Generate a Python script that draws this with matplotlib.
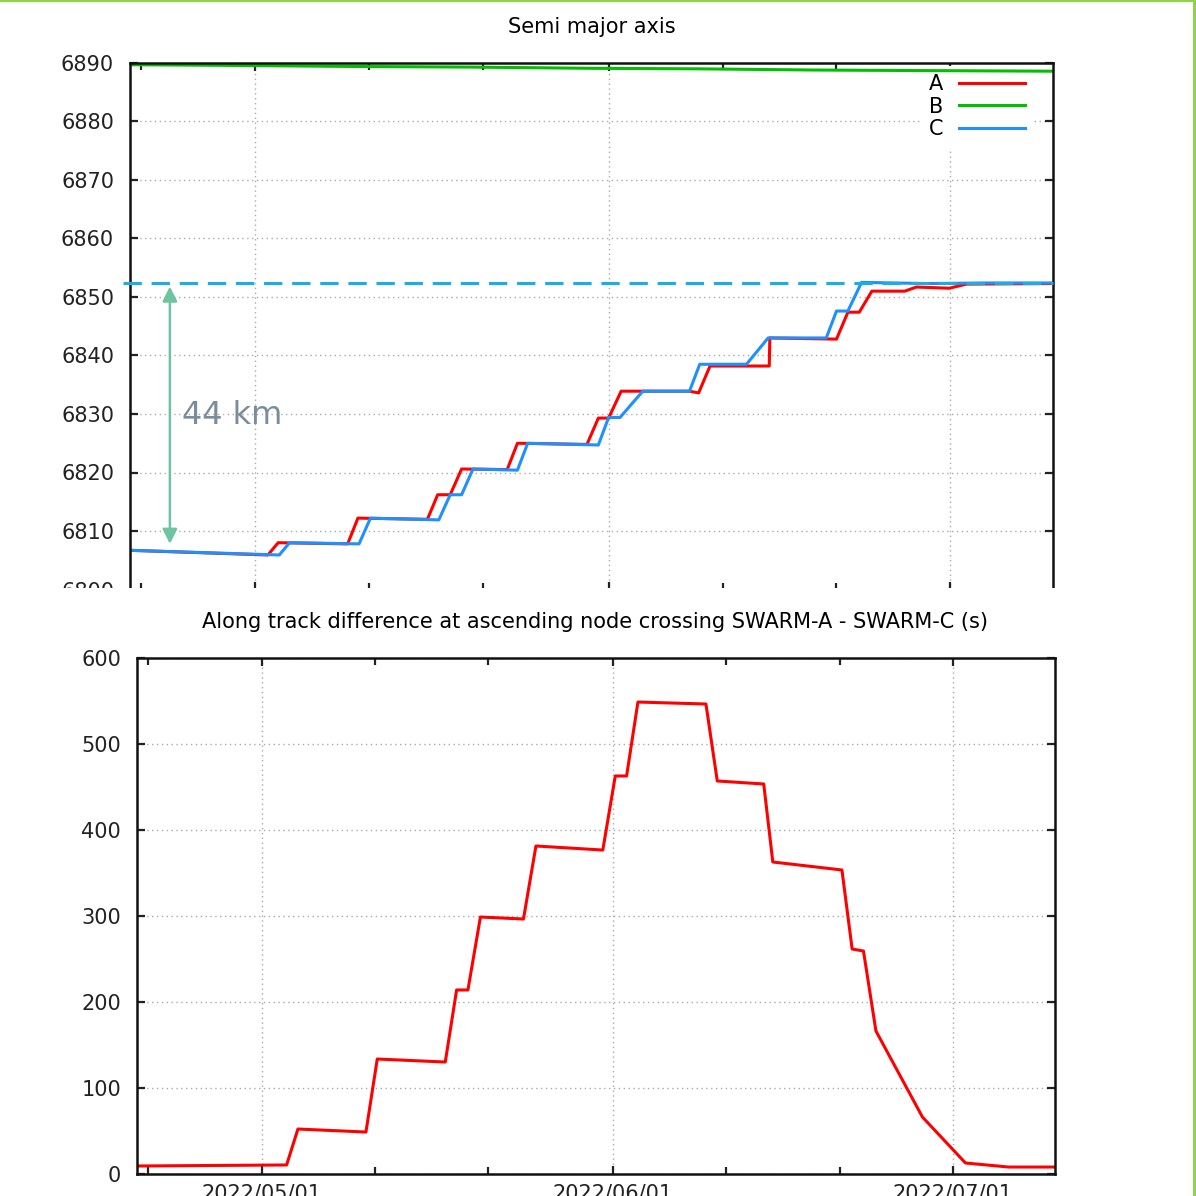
import numpy as np
import matplotlib
matplotlib.use("Agg")
import matplotlib.pyplot as plt
import matplotlib.dates as mdates
from matplotlib.lines import Line2D
from matplotlib.patches import Rectangle

W = H = 1196
START = np.datetime64("2022-04-20T00:00")
END = np.datetime64("2022-07-10T00:00")

# semi major axis (km); x values are days since START
sma_a_days = [0, 12.1, 13.0, 19.1, 20.0, 26.1, 27.0, 28.1, 29.1, 33.1, 34.0, 40.1, 41.1,
              42.0, 43.1, 49.1, 49.9, 50.9, 56.1, 56.15, 62.0, 63.0, 64.0, 65.1, 68.0,
              69.0, 71.9, 73.4, 81]
sma_a_km = [6806.7, 6805.9, 6808.0, 6807.8, 6812.2, 6812.0, 6816.2, 6816.2, 6820.6, 6820.5,
            6825.0, 6824.8, 6829.3, 6829.3, 6833.9, 6833.9, 6833.6, 6838.2, 6838.2, 6843.0,
            6842.8, 6847.4, 6847.4, 6851.0, 6851.0, 6851.7, 6851.5, 6852.2, 6852.3]

sma_b_days = [0, 8, 20, 30, 40, 50, 60, 70, 81]
sma_b_km = [6889.7, 6889.6, 6889.4, 6889.3, 6889.1, 6889.0, 6888.8, 6888.7, 6888.6]

sma_c_days = [0, 13.1, 14.0, 20.1, 21.1, 27.1, 28.1, 29.1, 30.1, 34.0, 34.9, 41.1, 42.0,
              43.0, 45.0, 49.1, 50.0, 54.1, 56.0, 61.1, 62.0, 63.0, 64.2, 70.0, 75.0, 81]
sma_c_km = [6806.7, 6805.9, 6808.0, 6807.8, 6812.2, 6811.9, 6816.2, 6816.2, 6820.6, 6820.4,
            6825.0, 6824.7, 6829.4, 6829.4, 6833.9, 6833.9, 6838.5, 6838.5, 6843.0, 6843.0,
            6847.6, 6847.6, 6852.5, 6852.3, 6852.4, 6852.4]

target_sma = 6852.4
raise_km = 44

# along track difference SWARM-A - SWARM-C (s)
along_days = [0, 13.2, 14.2, 20.2, 21.2, 27.2, 28.2, 29.2, 30.3, 34.1, 35.2, 41.1, 42.2,
              43.2, 44.2, 50.2, 51.2, 55.3, 56.1, 62.2, 63.1, 64.1, 65.2, 69.3, 73.1, 76.9, 81]
along_sec = [9.3, 10.5, 52.3, 48.8, 133.7, 130.2, 214, 214, 298.8, 296.5, 381.4, 376.7,
             462.8, 462.8, 548.8, 546.5, 457, 453.5, 362.8, 353.5, 261.6, 259.3, 166.3,
             66.3, 12.8, 8.1, 8.1]

RED = "#ff0000"
GREEN = "#00c000"
BLUE = "#1e90ff"


def to_dates(days):
    return START + np.round(np.asarray(days, dtype=float) * 1440).astype("timedelta64[m]")


def px_axes(fig, left, top, right, bottom):
    return fig.add_axes([left / W, 1 - bottom / H, (right - left) / W, (bottom - top) / H])


def style(ax, ymin, ymax, ystep):
    ax.set_xlim(START, END)
    ax.set_ylim(ymin, ymax)
    ax.set_yticks(np.arange(ymin, ymax + 1, ystep))
    ax.xaxis.set_major_locator(mdates.MonthLocator())
    ax.xaxis.set_major_formatter(mdates.DateFormatter("%Y/%m/%d"))
    ax.xaxis.set_minor_locator(mdates.DayLocator(bymonthday=[11, 21]))
    ax.tick_params(which="both", direction="in", top=True, right=True, width=1.6,
                   labelsize=15, colors="#222222")
    ax.tick_params(which="major", length=6)
    ax.tick_params(which="minor", length=5)
    ax.tick_params(axis="y", pad=11.5)
    ax.tick_params(axis="x", pad=7)
    ax.grid(True, which="major", ls=(0, (1, 2.5)), color="#aaaaaa", lw=1)
    ax.set_axisbelow(True)
    for s in ax.spines.values():
        s.set_linewidth(1.8)
        s.set_color("#111111")


fig = plt.figure(figsize=(W / 100, H / 100), dpi=100)

# --- semi major axis ---
ax1 = px_axes(fig, 130, 63, 1053, 589.5)
style(ax1, 6800, 6890, 10)
ax1.tick_params(axis="x", labelbottom=False)

la, = ax1.plot(to_dates(sma_a_days), sma_a_km, color=RED, lw=2.2, label="A")
lb, = ax1.plot(to_dates(sma_b_days), sma_b_km, color=GREEN, lw=2.2, label="B")
lc, = ax1.plot(to_dates(sma_c_days), sma_c_km, color=BLUE, lw=2.2, label="C")

ax1.plot(to_dates([-0.6, 81]), [target_sma, target_sma], color="#1aaee8", lw=2.2,
         dashes=[6, 3.2], clip_on=False, zorder=3)

arrow_x = to_dates([3.5])[0]
arrow_top = target_sma - 0.6
ax1.annotate("", xy=(arrow_x, arrow_top - raise_km), xytext=(arrow_x, arrow_top),
             arrowprops=dict(arrowstyle="<|-|>", color="#6cc4a0", lw=1.8,
                             mutation_scale=22, shrinkA=0, shrinkB=0))
ax1.text(to_dates([9.0])[0], 6829.7, f"{raise_km} km", fontsize=23, color="#7b8c9c",
         ha="center", va="center")

leg = ax1.legend(handles=[la, lb, lc], loc="upper right", bbox_to_anchor=(0.979, 0.995),
                 markerfirst=False, frameon=True, facecolor="white", edgecolor="none",
                 framealpha=1, fancybox=False, fontsize=15, handlelength=3.2,
                 handletextpad=0.75, labelspacing=0.13, borderpad=0.4, borderaxespad=0)
leg.set_zorder(1.5)

fig.text(592 / W, 1 - 27 / H, "Semi major axis", fontsize=15, ha="center", va="center")

# the lower edge of the upper chart is cut off
fig.patches.append(Rectangle((0, 1 - 605 / H), 1, (605 - 588) / H, transform=fig.transFigure,
                             facecolor="white", edgecolor="none", zorder=10))

# --- along track difference ---
ax2 = px_axes(fig, 137, 658, 1055, 1174)
style(ax2, 0, 600, 100)
ax2.plot(to_dates(along_days), along_sec, color=RED, lw=2.2)

fig.text(595 / W, 1 - 622 / H,
         "Along track difference at ascending node crossing SWARM-A - SWARM-C (s)",
         fontsize=15, ha="center", va="center")

# page border
fig.add_artist(Line2D([0, 1], [1 - 1 / H, 1 - 1 / H], transform=fig.transFigure,
                      color="#92d050", lw=1.6, zorder=20))
fig.add_artist(Line2D([1193.5 / W, 1193.5 / W], [0, 1], transform=fig.transFigure,
                      color="#92d050", lw=2.2, zorder=20))

fig.savefig("out.png", dpi=100)
